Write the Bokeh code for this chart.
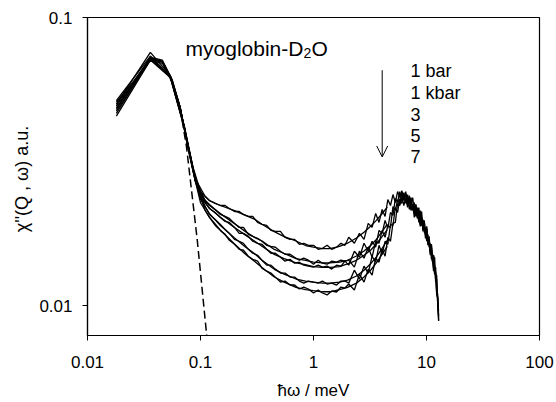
from bokeh.plotting import figure
from bokeh.models import FixedTicker, CustomJSTickFormatter, Arrow, OpenHead, Range1d, Title
from bokeh.core.properties import value
from bokeh.embed import file_html
from bokeh.resources import INLINE

# ---------------- data ----------------
x_ticks = [0.01, 0.1, 1, 10, 100]
y_ticks = [0.01, 0.1]
series_labels = ["1 bar", "1 kbar", "3", "5", "7"]

data_x = [0.018, 0.036, 0.054, 0.072, 0.09,
          0.11, 0.12, 0.135, 0.15, 0.165, 0.18, 0.2, 0.22, 0.24, 0.265, 0.29, 0.32, 0.35, 0.385, 0.42,
          0.46, 0.51, 0.56, 0.62, 0.68, 0.75, 0.82, 0.9, 1.0, 1.1, 1.2, 1.32, 1.45, 1.6, 1.75, 1.9,
          2.05, 2.3, 2.55, 2.8, 3.05, 3.3, 3.55, 3.8, 4.05, 4.3, 4.55, 4.8, 5.05, 5.3, 5.55, 5.8,
          6.05, 6.3, 6.55, 6.8, 7.05, 7.3, 7.55, 7.8, 8.05, 8.3, 8.55, 8.8, 9.05, 9.3, 9.55, 9.8,
          10.05, 10.3, 10.55, 10.8, 11.05, 11.3, 11.55, 11.8, 12.05, 12.3, 12.55, 12.8]

data_1bar = [0.0500, 0.0757, 0.0630, 0.0420, 0.0276,
             0.02395, 0.02320, 0.02266, 0.02230, 0.02230, 0.02178, 0.02126, 0.02126, 0.02076, 0.02044, 0.02044,
             0.01948, 0.01918, 0.01902, 0.01828, 0.01814, 0.01814, 0.01730, 0.01702, 0.01702, 0.01636, 0.01649,
             0.01623, 0.01623, 0.01572, 0.01585, 0.01623, 0.01572, 0.01598, 0.01649, 0.01623,
             0.01730, 0.01649, 0.01785, 0.01702, 0.01933, 0.01872, 0.02093, 0.01948, 0.02160, 0.02044,
             0.02339, 0.02230, 0.02434, 0.02284, 0.02492, 0.02376, 0.02512, 0.02339, 0.02453, 0.02248,
             0.02414, 0.02248, 0.02376, 0.02143, 0.02248, 0.02027, 0.02195, 0.01995, 0.02126, 0.01872,
             0.01964, 0.01785, 0.01887, 0.01649, 0.01743, 0.01548, 0.01636, 0.01430, 0.01320, 0.01476,
             0.01239, 0.01279, 0.01032, 0.00916]
data_1kbar = [0.0515, 0.0735, 0.0625, 0.0418, 0.0274,
              0.02320, 0.02248, 0.02160, 0.02076, 0.02044, 0.02011, 0.01933, 0.01872, 0.01872, 0.01771, 0.01743,
              0.01716, 0.01676, 0.01623, 0.01610, 0.01598, 0.01548, 0.01511, 0.01511, 0.01476, 0.01441, 0.01464,
              0.01441, 0.01396, 0.01441, 0.01407, 0.01396, 0.01430, 0.01418, 0.01441, 0.01430,
              0.01385, 0.01548, 0.01476, 0.01649, 0.01548, 0.01676, 0.01598, 0.01828, 0.01785, 0.01979,
              0.01858, 0.02109, 0.02060, 0.02358, 0.02284, 0.02492, 0.02320, 0.02453, 0.02266, 0.02434,
              0.02266, 0.02376, 0.02143, 0.02248, 0.02044, 0.02195, 0.02027, 0.02143, 0.01902, 0.01964,
              0.01979, 0.01771, 0.01843, 0.01636, 0.01702, 0.01548, 0.01636, 0.01430, 0.01499, 0.01289,
              0.01363, 0.01145, 0.01100, 0.00888]
data_3kbar = [0.0480, 0.0725, 0.0628, 0.0415, 0.0272,
              0.02284, 0.02178, 0.02109, 0.02027, 0.01964, 0.01948, 0.01872, 0.01785, 0.01785, 0.01743, 0.01676,
              0.01649, 0.01636, 0.01572, 0.01523, 0.01523, 0.01476, 0.01430, 0.01452, 0.01407, 0.01418, 0.01385,
              0.01374, 0.01363, 0.01385, 0.01363, 0.01374, 0.01342, 0.01385, 0.01374, 0.01430,
              0.01441, 0.01363, 0.01548, 0.01464, 0.01598, 0.01476, 0.01676, 0.01649, 0.01828, 0.01730,
              0.01902, 0.01872, 0.02212, 0.02143, 0.02339, 0.02248, 0.02472, 0.02320, 0.02492, 0.02248,
              0.02339, 0.02143, 0.02248, 0.02093, 0.02248, 0.02060, 0.02143, 0.01918, 0.02027, 0.01814,
              0.01918, 0.01757, 0.01858, 0.01636, 0.01676, 0.01523, 0.01598, 0.01430, 0.01499, 0.01320,
              0.01310, 0.01109, 0.01075, 0.00931]
data_5kbar = [0.0465, 0.0718, 0.0622, 0.0416, 0.0271,
              0.02212, 0.02076, 0.01995, 0.01918, 0.01843, 0.01785, 0.01702, 0.01676, 0.01649, 0.01572, 0.01523,
              0.01499, 0.01441, 0.01385, 0.01385, 0.01342, 0.01300, 0.01300, 0.01259, 0.01259, 0.01220, 0.01200,
              0.01220, 0.01210, 0.01200, 0.01220, 0.01191, 0.01200, 0.01182, 0.01220, 0.01220,
              0.01200, 0.01331, 0.01239, 0.01374, 0.01300, 0.01487, 0.01418, 0.01623, 0.01511, 0.01676,
              0.01636, 0.01918, 0.01902, 0.02195, 0.02109, 0.02358, 0.02266, 0.02472, 0.02284, 0.02376,
              0.02160, 0.02320, 0.02160, 0.02284, 0.02060, 0.02143, 0.01948, 0.02076, 0.01902, 0.01995,
              0.01800, 0.01828, 0.01676, 0.01771, 0.01598, 0.01649, 0.01452, 0.01523, 0.01363, 0.01385,
              0.01210, 0.01239, 0.01024, 0.00962]
data_7kbar = [0.0455, 0.0712, 0.0620, 0.0413, 0.0270,
              0.02143, 0.02027, 0.01902, 0.01828, 0.01771, 0.01689, 0.01636, 0.01572, 0.01560, 0.01487, 0.01452,
              0.01430, 0.01352, 0.01320, 0.01300, 0.01259, 0.01210, 0.01220, 0.01182, 0.01182, 0.01145, 0.01163,
              0.01145, 0.01109, 0.01136, 0.01109, 0.01092, 0.01127, 0.01118, 0.01163, 0.01154,
              0.01191, 0.01136, 0.01289, 0.01210, 0.01342, 0.01279, 0.01464, 0.01418, 0.01572, 0.01487,
              0.01730, 0.01676, 0.01933, 0.01948, 0.02266, 0.02230, 0.02395, 0.02230, 0.02376, 0.02195,
              0.02358, 0.02160, 0.02248, 0.02027, 0.02195, 0.02011, 0.02076, 0.01887, 0.02027, 0.01843,
              0.01902, 0.01716, 0.01814, 0.01623, 0.01662, 0.01499, 0.01585, 0.01430, 0.01487, 0.01289,
              0.01300, 0.01100, 0.01066, 0.00888]

fit_x = [0.018, 0.026, 0.036, 0.046, 0.056, 0.066, 0.076, 0.086, 0.1, 0.12, 0.15, 0.2, 0.25, 0.3, 0.35,
         0.45, 0.55, 0.7, 0.85, 1.0, 1.2, 1.4, 1.7, 2.0, 2.4, 2.8, 3.2, 3.6, 4.0, 4.5]
fit_1bar = [0.0509, 0.0606, 0.0722, 0.0705, 0.0606, 0.0489, 0.0374, 0.0302, 0.0249, 0.0232, 0.0223, 0.0214,
            0.0206, 0.0200, 0.0192, 0.0181, 0.0174, 0.0168, 0.0162, 0.0160, 0.0158, 0.0158, 0.0161, 0.0165,
            0.0172, 0.0180, 0.0189, 0.0198, 0.0208, 0.0220]
fit_1kbar = [0.0501, 0.0601, 0.0728, 0.0711, 0.0611, 0.0489, 0.0371, 0.0299, 0.0243, 0.0223, 0.0209, 0.0193,
             0.0181, 0.0173, 0.0168, 0.0157, 0.0152, 0.0146, 0.0144, 0.0142, 0.0141, 0.0141, 0.0142, 0.0144,
             0.0149, 0.0155, 0.0162, 0.0170, 0.0180, 0.0192]
fit_3kbar = [0.0493, 0.0597, 0.0717, 0.0700, 0.0601, 0.0489, 0.0368, 0.0297, 0.0239, 0.0218, 0.0203, 0.0187,
             0.0176, 0.0168, 0.0161, 0.0151, 0.0146, 0.0141, 0.0139, 0.0137, 0.0136, 0.0136, 0.0137, 0.0140,
             0.0144, 0.0150, 0.0156, 0.0164, 0.0173, 0.0184]
fit_5kbar = [0.0486, 0.0592, 0.0722, 0.0705, 0.0606, 0.0489, 0.0368, 0.0294, 0.0234, 0.0209, 0.0190, 0.0172,
             0.0160, 0.0152, 0.0144, 0.0134, 0.0129, 0.0124, 0.0122, 0.0121, 0.0120, 0.0120, 0.0121, 0.0123,
             0.0127, 0.0133, 0.0140, 0.0148, 0.0157, 0.0169]
fit_7kbar = [0.0474, 0.0587, 0.0711, 0.0694, 0.0597, 0.0489, 0.0365, 0.0292, 0.0228, 0.0203, 0.0183, 0.0164,
             0.0151, 0.0143, 0.0136, 0.0126, 0.0121, 0.0116, 0.0114, 0.0113, 0.0112, 0.0112, 0.0114, 0.0116,
             0.0120, 0.0126, 0.0133, 0.0141, 0.0150, 0.0161]

elastic_x = [0.066, 0.0752, 0.0935, 0.1135]
elastic_y = [0.0485, 0.0356, 0.0170, 0.0079]

FONT = "Liberation Sans"

p = figure(width=556, height=402, x_axis_type="log", y_axis_type="log",
           x_range=Range1d(0.01, 100), y_range=Range1d(0.0079, 0.1),
           output_backend="svg", toolbar_location=None,
           min_border_left=87, min_border_right=17, min_border_top=17, min_border_bottom=66)
p.background_fill_color = "white"
p.border_fill_color = "white"
p.outline_line_color = "black"
p.outline_line_width = 1.2
p.xgrid.visible = False
p.ygrid.visible = False

fmt = CustomJSTickFormatter(code="return tick.toString();")
for ax, ticks in ((p.xaxis[0], x_ticks), (p.yaxis[0], y_ticks)):
    ax.ticker = FixedTicker(ticks=ticks, minor_ticks=[])
    ax.formatter = fmt
    ax.axis_line_color = "black"
    ax.axis_line_width = 1.2
    ax.major_tick_line_color = "black"
    ax.major_tick_out = 5
    ax.major_tick_in = 0
    ax.minor_tick_line_color = None
    ax.major_label_text_font = FONT
    ax.major_label_text_font_size = "17px"
    ax.major_label_text_color = "black"
    ax.axis_label_text_font = FONT
    ax.axis_label_text_font_style = "normal"
    ax.axis_label_text_color = "black"

p.xaxis.axis_label_text_font_size = "17px"
p.xaxis.major_label_standoff = 15
p.yaxis.major_label_standoff = 10
p.xaxis.axis_label = "ħω / meV"
p.xaxis.axis_label_standoff = 10

# y-axis title as a side title, shifted down a little to sit where the original has it
p.add_layout(Title(text="χ''(Q , ω)  a.u.", align="center", offset=-20, text_font=FONT,
                   text_font_size="18px", text_font_style="normal", text_color="black"), "left")

for ys in (data_1bar, data_1kbar, data_3kbar, data_5kbar, data_7kbar):
    p.line(data_x, ys, line_color="black", line_width=1.3)
for ys in (fit_1bar, fit_1kbar, fit_3kbar, fit_5kbar, fit_7kbar):
    p.line(fit_x, ys, line_color="black", line_width=1.3)

p.line(elastic_x, elastic_y, line_color="black", line_width=1.5, line_dash="8 4")

# title inside plot
p.text(x=[0.0737], y=[0.0782], text=["myoglobin-D"], text_font=value(FONT), text_font_size="21px",
       text_baseline="alphabetic", text_align="left", text_color="black")
p.text(x=[0.0737], y=[0.0752], text=["2"], x_offset=118, text_font=value(FONT), text_font_size="14px",
       text_baseline="alphabetic", text_align="left", text_color="black")
p.text(x=[0.0737], y=[0.0782], text=["O"], x_offset=126, text_font=value(FONT), text_font_size="21px",
       text_baseline="alphabetic", text_align="left", text_color="black")

# pressure legend
p.text(x=[7.22] * 5, y=[0.06539, 0.05491, 0.04628, 0.03903, 0.03291], text=series_labels,
       text_font=value(FONT), text_font_size="18px", text_baseline="middle", text_align="left",
       text_color="black")
p.add_layout(Arrow(x_start=4.055, y_start=0.06565, x_end=4.055, y_end=0.03285,
                   line_color="black", line_width=1,
                   end=OpenHead(size=11, line_color="black", line_width=1)))

open("out.html", "w").write(file_html(p, INLINE))
